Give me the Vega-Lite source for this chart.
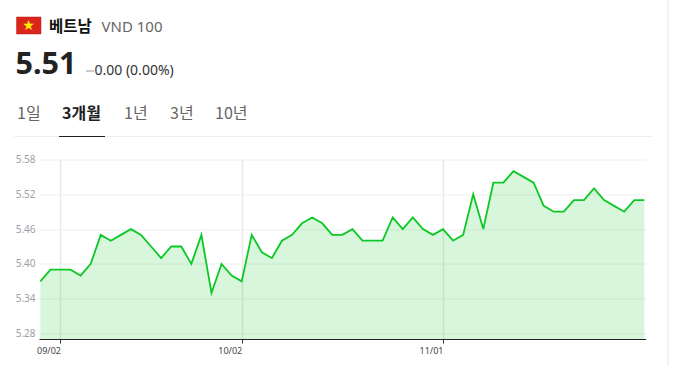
{
"$schema":"https://vega.github.io/schema/vega-lite/v6.json",
"width":606.7,"height":179.5,
"autosize":{"type":"none"},
"padding":{"left":39,"top":159.5,"right":39.3,"bottom":27},
"background":"#ffffff",
"config":{"view":{"stroke":null},"font":"Noto Sans"},
"datasets":{"prices":[
{"d":"08/29","v":5.37},{"d":"08/30","v":5.39},{"d":"09/02","v":5.39},{"d":"09/03","v":5.39},{"d":"09/04","v":5.38},{"d":"09/05","v":5.40},{"d":"09/06","v":5.45},{"d":"09/09","v":5.44},{"d":"09/10","v":5.45},{"d":"09/11","v":5.46},{"d":"09/12","v":5.45},{"d":"09/13","v":5.43},{"d":"09/16","v":5.41},{"d":"09/17","v":5.43},{"d":"09/18","v":5.43},{"d":"09/19","v":5.40},{"d":"09/20","v":5.45},{"d":"09/23","v":5.35},{"d":"09/24","v":5.40},{"d":"09/25","v":5.38},{"d":"10/02","v":5.37},{"d":"10/03","v":5.45},{"d":"10/04","v":5.42},{"d":"10/07","v":5.41},{"d":"10/08","v":5.44},{"d":"10/09","v":5.45},{"d":"10/10","v":5.47},{"d":"10/11","v":5.48},{"d":"10/14","v":5.47},{"d":"10/15","v":5.45},{"d":"10/16","v":5.45},{"d":"10/17","v":5.46},{"d":"10/18","v":5.44},{"d":"10/21","v":5.44},{"d":"10/22","v":5.44},{"d":"10/23","v":5.48},{"d":"10/24","v":5.46},{"d":"10/25","v":5.48},{"d":"10/28","v":5.46},{"d":"10/29","v":5.45},{"d":"11/01","v":5.46},{"d":"11/04","v":5.44},{"d":"11/05","v":5.45},{"d":"11/06","v":5.52},{"d":"11/07","v":5.46},{"d":"11/08","v":5.54},{"d":"11/11","v":5.54},{"d":"11/12","v":5.56},{"d":"11/13","v":5.55},{"d":"11/14","v":5.54},{"d":"11/15","v":5.50},{"d":"11/18","v":5.49},{"d":"11/19","v":5.49},{"d":"11/20","v":5.51},{"d":"11/21","v":5.51},{"d":"11/22","v":5.53},{"d":"11/25","v":5.51},{"d":"11/26","v":5.50},{"d":"11/27","v":5.49},{"d":"11/28","v":5.51},{"d":"11/29","v":5.51}
]},
"layer":[
{"data":{"name":"prices"},"mark":{"type":"area","color":"#0cc825","opacity":0.16,"clip":true},
 "encoding":{
  "x":{"field":"d","type":"ordinal","sort":null,"scale":{"type":"point","padding":0.135},"title":null,
   "axis":{"values":["09/02","10/02","11/01"],"labelAngle":0,"labelAlign":"right","labelPadding":3,"labelFontSize":9,"labelColor":"#444444","tickColor":"#333333","tickSize":4,"domainColor":"#222222","grid":true,"gridColor":"#e8e8e8","gridWidth":1.5}},
  "y":{"field":"v","type":"quantitative","scale":{"domain":[5.2705,5.58],"nice":false,"zero":false},"title":null,
   "axis":{"values":[5.28,5.34,5.40,5.46,5.52,5.58],"tickCount":12,"format":".2f","labelFontSize":10,"labelColor":"#9a9fa8","labelPadding":4,"ticks":false,"domain":false,"grid":true,"gridColor":"#eeeeee","gridWidth":1}}
 }},
{"data":{"name":"prices"},"mark":{"type":"line","color":"#0cc825","strokeWidth":1.8},
 "encoding":{"x":{"field":"d","type":"ordinal","sort":null},"y":{"field":"v","type":"quantitative"}}},
{"data":{"values":[{"k":"flag"}]},"mark":{"type":"rect","color":"#da251d","stroke":"#b5231c","strokeWidth":0.5},
 "encoding":{"x":{"value":-22.5},"x2":{"value":2},"y":{"value":-142.5},"y2":{"value":-125.5}}},
{"data":{"values":[{"t":"★"}]},"mark":{"type":"text","align":"center","baseline":"middle","fontSize":14,"color":"#ffee00","font":"DejaVu Sans"},
 "encoding":{"text":{"field":"t"},"x":{"value":-10.5},"y":{"value":-134}}},
{"data":{"values":[{"t":"베트남"}]},"mark":{"type":"text","align":"left","baseline":"middle","fontSize":15.5,"fontWeight":"bold","color":"#111111","font":"Noto Sans CJK KR"},
 "encoding":{"text":{"field":"t"},"x":{"value":10},"y":{"value":-132.5}}},
{"data":{"values":[{"t":"VND 100"}]},"mark":{"type":"text","align":"left","baseline":"middle","fontSize":15,"color":"#666666","font":"Noto Sans"},
 "encoding":{"text":{"field":"t"},"x":{"value":62.5},"y":{"value":-132.5}}},
{"data":{"values":[{"t":"5.51"}]},"mark":{"type":"text","align":"left","baseline":"middle","fontSize":30.5,"fontWeight":"bold","color":"#222222","font":"Noto Sans"},
 "encoding":{"text":{"field":"t"},"x":{"value":-23.5},"y":{"value":-95}}},
{"data":{"values":[{"k":"flat"}]},"mark":{"type":"rule","color":"#cccccc","strokeWidth":2},
 "encoding":{"x":{"value":47},"x2":{"value":55},"y":{"value":-88.5}}},
{"data":{"values":[{"t":"0.00 (0.00%)"}]},"mark":{"type":"text","align":"left","baseline":"middle","fontSize":14,"color":"#333333","font":"Noto Sans"},
 "encoding":{"text":{"field":"t"},"x":{"value":55.5},"y":{"value":-88.5}}},
{"data":{"values":[{"t":"1일"}]},"mark":{"type":"text","align":"left","baseline":"middle","fontSize":16,"color":"#666666","font":"Noto Sans CJK KR"},
 "encoding":{"text":{"field":"t"},"x":{"value":-22},"y":{"value":-45.5}}},
{"data":{"values":[{"t":"3개월"}]},"mark":{"type":"text","align":"left","baseline":"middle","fontSize":16,"fontWeight":"bold","color":"#222222","font":"Noto Sans CJK KR"},
 "encoding":{"text":{"field":"t"},"x":{"value":23},"y":{"value":-45.5}}},
{"data":{"values":[{"t":"1년"}]},"mark":{"type":"text","align":"left","baseline":"middle","fontSize":16,"color":"#666666","font":"Noto Sans CJK KR"},
 "encoding":{"text":{"field":"t"},"x":{"value":85},"y":{"value":-45.5}}},
{"data":{"values":[{"t":"3년"}]},"mark":{"type":"text","align":"left","baseline":"middle","fontSize":16,"color":"#666666","font":"Noto Sans CJK KR"},
 "encoding":{"text":{"field":"t"},"x":{"value":131},"y":{"value":-45.5}}},
{"data":{"values":[{"t":"10년"}]},"mark":{"type":"text","align":"left","baseline":"middle","fontSize":16,"color":"#666666","font":"Noto Sans CJK KR"},
 "encoding":{"text":{"field":"t"},"x":{"value":176},"y":{"value":-45.5}}},
{"data":{"values":[{"k":"tabline"}]},"mark":{"type":"rule","color":"#eeeeee","strokeWidth":1},
 "encoding":{"x":{"value":-25},"x2":{"value":613},"y":{"value":-23}}},
{"data":{"values":[{"k":"active"}]},"mark":{"type":"rule","color":"#222222","strokeWidth":1},
 "encoding":{"x":{"value":20},"x2":{"value":66},"y":{"value":-23}}},
{"data":{"values":[{"k":"edge"}]},"mark":{"type":"rule","color":"#e8e8e8","strokeWidth":1},
 "encoding":{"x":{"value":629},"y":{"value":-160},"y2":{"value":207}}}
]
}
